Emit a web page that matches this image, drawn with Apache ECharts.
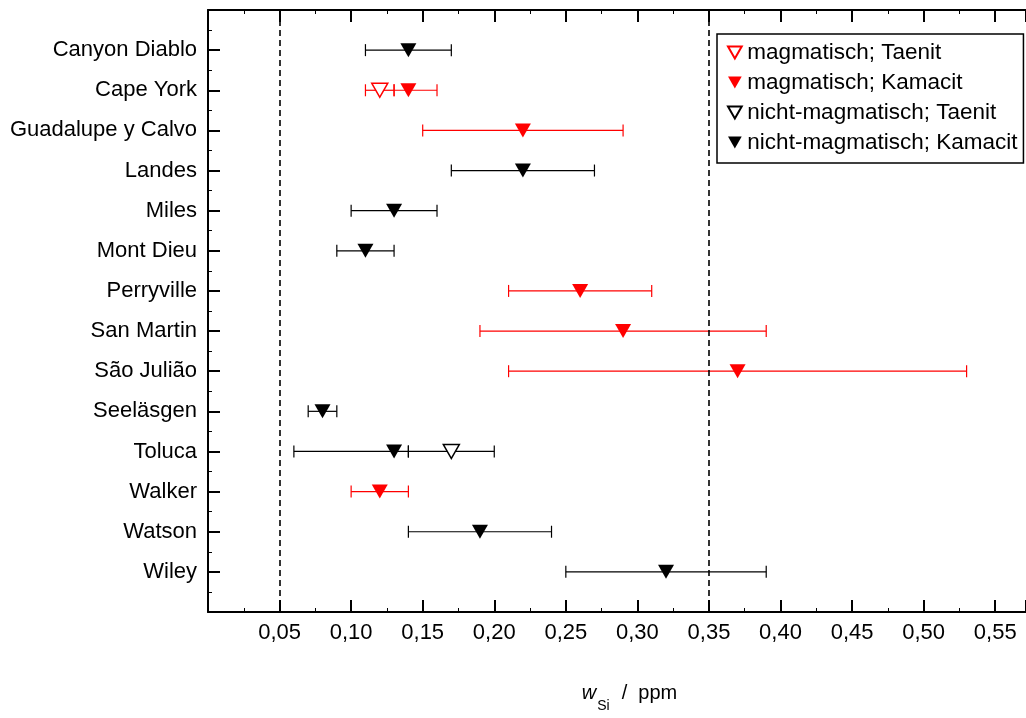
<!DOCTYPE html>
<html>
<head>
<meta charset="utf-8">
<script src="https://cdn.jsdelivr.net/npm/echarts@6/dist/echarts.min.js"></script>
<style>html,body{margin:0;padding:0;background:#fff;overflow:hidden}#c{width:1026px;height:718px}</style>
</head>
<body>
<div id="c"></div>
<script>
const categories = ['Canyon Diablo','Cape York','Guadalupe y Calvo','Landes','Miles','Mont Dieu','Perryville','San Martin','São Julião','Seeläsgen','Toluca','Walker','Watson','Wiley'];
const xTicks = [0.05,0.10,0.15,0.20,0.25,0.30,0.35,0.40,0.45,0.50,0.55];
const refLines = [0.05, 0.35];

// magmatisch; Taenit
const magTaenitCats = ['Cape York'];
const magTaenitVals = [0.12];
const magTaenitLo = [0.11];
const magTaenitHi = [0.13];
// magmatisch; Kamacit
const magKamacitCats = ['Cape York','Guadalupe y Calvo','Perryville','San Martin','São Julião','Walker'];
const magKamacitVals = [0.14,0.22,0.26,0.29,0.37,0.12];
const magKamacitLo = [0.13,0.15,0.21,0.19,0.21,0.10];
const magKamacitHi = [0.16,0.29,0.31,0.39,0.53,0.14];
// nicht-magmatisch; Taenit
const nmTaenitCats = ['Toluca'];
const nmTaenitVals = [0.17];
const nmTaenitLo = [0.14];
const nmTaenitHi = [0.20];
// nicht-magmatisch; Kamacit
const nmKamacitCats = ['Canyon Diablo','Landes','Miles','Mont Dieu','Seeläsgen','Toluca','Watson','Wiley'];
const nmKamacitVals = [0.14,0.22,0.13,0.11,0.08,0.13,0.19,0.32];
const nmKamacitLo = [0.11,0.17,0.10,0.09,0.07,0.06,0.14,0.25];
const nmKamacitHi = [0.17,0.27,0.16,0.13,0.09,0.14,0.24,0.39];

function build(cats, vals, lo, hi) {
  return cats.map((c, i) => [vals[i], categories.indexOf(c) + 1, lo[i], hi[i]]);
}
const FONT = 'Arial, "Liberation Sans", sans-serif';
const TRI = 'path://M0,0 L16,0 L8,14 Z';
const RED = '#ff0000', BLK = '#000000';

const groups = [
  {name: 'magmatisch; Taenit', data: build(magTaenitCats, magTaenitVals, magTaenitLo, magTaenitHi), color: RED, open: true},
  {name: 'magmatisch; Kamacit', data: build(magKamacitCats, magKamacitVals, magKamacitLo, magKamacitHi), color: RED, open: false},
  {name: 'nicht-magmatisch; Taenit', data: build(nmTaenitCats, nmTaenitVals, nmTaenitLo, nmTaenitHi), color: BLK, open: true},
  {name: 'nicht-magmatisch; Kamacit', data: build(nmKamacitCats, nmKamacitVals, nmKamacitLo, nmKamacitHi), color: BLK, open: false}
];

const series = [];
groups.forEach(g => {
  series.push({
    type: 'custom', name: g.name + ' err', xAxisIndex: 0, yAxisIndex: 0, z: 2, silent: true,
    data: g.data,
    encode: {x: [0, 2, 3], y: 1},
    renderItem: function (params, api) {
      const y = api.value(1);
      const a = api.coord([api.value(2), y]);
      const b = api.coord([api.value(3), y]);
      const h = 6;
      const st = {stroke: g.color, lineWidth: 1.2, fill: null};
      return {type: 'group', children: [
        {type: 'line', shape: {x1: a[0], y1: a[1], x2: b[0], y2: b[1]}, style: st},
        {type: 'line', shape: {x1: a[0], y1: a[1] - h, x2: a[0], y2: a[1] + h}, style: st},
        {type: 'line', shape: {x1: b[0], y1: b[1] - h, x2: b[0], y2: b[1] + h}, style: st}
      ]};
    }
  });
});
groups.forEach((g, gi) => {
  const s = {
    type: 'scatter', name: g.name, xAxisIndex: 0, yAxisIndex: 0, z: 5,
    symbol: TRI, symbolSize: [16, 14], symbolKeepAspect: false,
    data: g.data.map(d => [d[0], d[1]]),
    itemStyle: g.open ? {color: '#ffffff', borderColor: g.color, borderWidth: 1.5, opacity: 1}
                      : {color: g.color, borderColor: g.color, borderWidth: 0, opacity: 1}
  };
  if (gi === 3) {
    s.markLine = {
      silent: true, symbol: ['none', 'none'], label: {show: false},
      lineStyle: {color: '#000', type: [6, 4], width: 1.6},
      data: refLines.map(v => ({xAxis: v}))
    };
  }
  series.push(s);
});

const xMax = 0.5715;
const fmtX = v => xTicks.some(t => Math.abs(t - v) < 1e-9) ? v.toFixed(2).replace('.', ',') : '';

const chart = echarts.init(document.getElementById('c'), null, {renderer: 'canvas', width: 1026, height: 718});
chart.setOption({
  animation: false,
  backgroundColor: '#fff',
  textStyle: {fontFamily: FONT},
  grid: {left: 208, width: 818, top: 10, height: 609, containLabel: false},
  xAxis: [{
    type: 'value', position: 'bottom', min: 0, max: xMax, interval: 0.05,
    axisLine: {show: true, onZero: false, lineStyle: {color: '#000', width: 2}},
    axisTick: {show: true, inside: true, length: 12, lineStyle: {color: '#000', width: 2}},
    minorTick: {show: true, splitNumber: 2, length: 4, lineStyle: {color: '#000', width: 1}},
    splitLine: {show: false},
    axisLabel: {formatter: fmtX, color: '#000', fontSize: 22, fontFamily: FONT, margin: 10, showMinLabel: false, showMaxLabel: false},
    name: '{i|w}{s|Si}{sl|/}{n|ppm}', nameLocation: 'middle', nameGap: 71,
    nameTextStyle: {padding: [0, 0, 0, 25], rich: {
      i: {fontStyle: 'italic', fontSize: 20, fontFamily: FONT, color: '#000', verticalAlign: 'top', lineHeight: 22},
      s: {fontSize: 14, fontFamily: FONT, color: '#000', verticalAlign: 'top', lineHeight: 14, padding: [16, 0, 0, 1]},
      sl: {fontSize: 20, fontFamily: FONT, color: '#000', verticalAlign: 'top', lineHeight: 22, padding: [0, 11, 0, 12]},
      n: {fontSize: 20, fontFamily: FONT, color: '#000', verticalAlign: 'top', lineHeight: 22}
    }}
  }, {
    type: 'value', position: 'top', min: 0, max: xMax, interval: 0.05,
    axisLine: {show: true, onZero: false, lineStyle: {color: '#000', width: 2}},
    axisTick: {show: true, inside: true, length: 12, lineStyle: {color: '#000', width: 2}},
    minorTick: {show: true, splitNumber: 2, length: 4, lineStyle: {color: '#000', width: 1}},
    splitLine: {show: false}, axisLabel: {show: false}
  }],
  yAxis: [{
    type: 'value', inverse: true, min: 0, max: 15, interval: 1,
    axisLine: {show: true, onZero: false, lineStyle: {color: '#000', width: 2}},
    axisTick: {show: true, inside: true, length: 12, lineStyle: {color: '#000', width: 2}},
    minorTick: {show: true, splitNumber: 2, length: 4, lineStyle: {color: '#000', width: 1}},
    splitLine: {show: false},
    axisLabel: {formatter: v => categories[v - 1] || '', color: '#000', fontSize: 22, fontFamily: FONT, margin: 11}
  }],
  legend: {
    orient: 'vertical', left: 717, top: 34,
    data: groups.map(g => ({name: g.name, icon: TRI})),
    itemWidth: 15, itemHeight: 12, itemGap: 7,
    padding: [7, 6, 9, 10],
    borderColor: '#000', borderWidth: 1.5, backgroundColor: '#fff',
    textStyle: {fontSize: 22.5, fontFamily: FONT, color: '#000', lineHeight: 22, padding: [0, 0, 0, 0]},
    selectedMode: false
  },
  series: series
});
</script>
</body>
</html>
